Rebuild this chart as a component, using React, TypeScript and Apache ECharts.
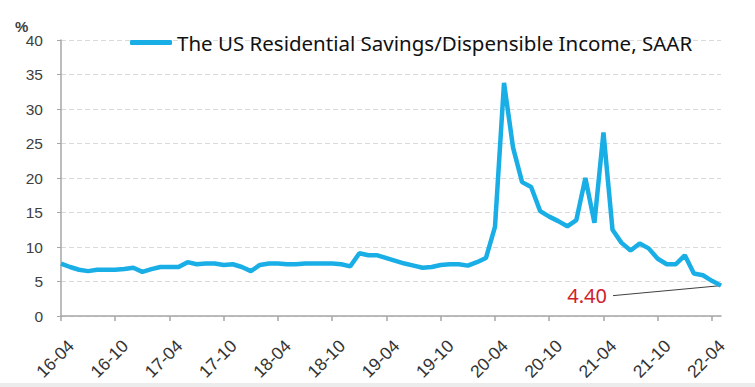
import React, { useEffect, useRef } from "react";
import * as echarts from "echarts";

const categories: string[] = [];
const startYear = 16;
const startMonth = 4;
for (let i = 0; i < 74; i++) {
  const m = ((startMonth - 1 + i) % 12) + 1;
  const y = startYear + Math.floor((startMonth - 1 + i) / 12);
  categories.push(`${y}-${m < 10 ? "0" + m : m}`);
}

const seriesName = "The US Residential Savings/Dispensible Income, SAAR";

const savingsRate: number[] = [
  7.6, 7.1, 6.7, 6.5, 6.7, 6.7, 6.7, 6.8, 7.0, 6.4, 6.8, 7.1,
  7.1, 7.1, 7.8, 7.5, 7.6, 7.6, 7.4, 7.5, 7.1, 6.5, 7.4, 7.6,
  7.6, 7.5, 7.5, 7.6, 7.6, 7.6, 7.6, 7.5, 7.2, 9.1, 8.8, 8.8,
  8.4, 8.0, 7.6, 7.3, 7.0, 7.1, 7.4, 7.5, 7.5, 7.3, 7.8, 8.4,
  12.9, 33.8, 24.4, 19.4, 18.7, 15.2, 14.4, 13.75, 13.0, 13.9, 20.0, 13.5,
  26.6, 12.5, 10.6, 9.5, 10.5, 9.8, 8.3, 7.5, 7.5, 8.8, 6.15, 5.9,
  5.1, 4.4,
];

const yMin = 0;
const yMax = 40;
const yInterval = 5;
const labelEvery = 6;

const LINE_COLOR = "#1aaee6";

export default function App() {
  const ref = useRef<HTMLDivElement>(null);
  useEffect(() => {
    document.body.style.margin = "0";
    if (!ref.current) return;
    const chart = echarts.init(ref.current, undefined, { renderer: "svg" });
    chart.setOption({
      animation: false,
      backgroundColor: "#ffffff",
      grid: { left: 61, right: 34, top: 40, bottom: 71, containLabel: false },
      legend: {
        left: 130,
        top: 32,
        padding: 0,
        data: [{ name: seriesName, icon: "roundRect" }],
        itemWidth: 42,
        itemHeight: 5,
        textStyle: { fontFamily: "Noto Sans", fontSize: 20.5, color: "#111111" },
      },
      xAxis: {
        type: "category",
        data: categories,
        boundaryGap: false,
        axisLine: { lineStyle: { color: "#a6a6a6", width: 1.5 } },
        axisTick: {
          show: true,
          interval: labelEvery - 1,
          length: 5,
          lineStyle: { color: "#a6a6a6", width: 1.5 },
        },
        axisLabel: {
          interval: labelEvery - 1,
          rotate: 45,
          margin: 17,
          align: "right",
          verticalAlign: "top",
          padding: [5, 0, 0, 0],
          fontFamily: "Liberation Sans",
          fontSize: 17.5,
          color: "#333333",
        },
        splitLine: { show: false },
      },
      yAxis: {
        type: "value",
        min: yMin,
        max: yMax,
        interval: yInterval,
        axisLine: { show: true, lineStyle: { color: "#a6a6a6", width: 1.5 } },
        axisTick: { show: true, length: 4, lineStyle: { color: "#a6a6a6" } },
        axisLabel: {
          margin: 18,
          fontFamily: "Liberation Sans",
          fontSize: 15.5,
          color: "#404040",
        },
        splitLine: {
          show: true,
          lineStyle: { color: "#dadada", type: [5, 3], width: 1 },
        },
      },
      series: [
        {
          name: seriesName,
          type: "line",
          data: savingsRate,
          symbol: "none",
          lineStyle: { color: LINE_COLOR, width: 4.5 },
          itemStyle: { color: LINE_COLOR },
        },
      ],
    });

    const lastIdx = savingsRate.length - 1;
    const lastVal = savingsRate[lastIdx];
    const pt = chart.convertToPixel({ xAxisIndex: 0, yAxisIndex: 0 }, [lastIdx, lastVal]) as number[];
    const lineEndX = pt[0] - 108;
    const lineEndY = pt[1] + 10;
    chart.setOption({
      graphic: [
        {
          type: "text",
          left: 15,
          top: 19,
          style: { text: "%", font: "bold 15px 'Liberation Sans'", fill: "#404040" },
        },
        {
          type: "line",
          shape: { x1: pt[0], y1: pt[1], x2: lineEndX, y2: lineEndY },
          style: { stroke: "#404040", lineWidth: 1 },
        },
        {
          type: "text",
          x: lineEndX - 6,
          y: lineEndY,
          style: {
            text: lastVal.toFixed(2),
            font: "20px 'Noto Sans'",
            fill: "#d0202a",
            align: "right",
            verticalAlign: "middle",
          },
        },
        {
          type: "rect",
          shape: { x: 0, y: 383, width: 755, height: 4 },
          style: { fill: "#ececec" },
        },
      ],
    });
    return () => chart.dispose();
  }, []);
  return <div ref={ref} style={{ width: 755, height: 387 }} />;
}
